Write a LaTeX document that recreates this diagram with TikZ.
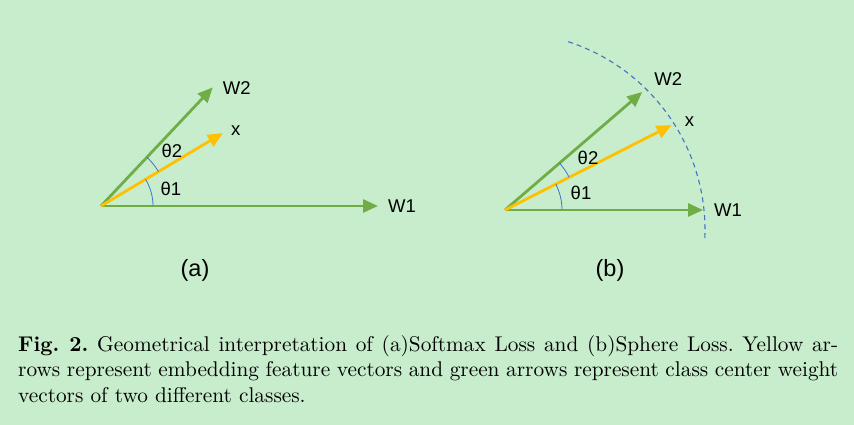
\documentclass[tikz,border=0pt]{standalone}
\usepackage{fontspec}
\setmainfont{lmroman10}[Extension=.otf, UprightFont=*-regular, BoldFont=*-bold,
    ItalicFont=*-italic, BoldItalicFont=*-bolditalic]
\newfontfamily\labelfont{Liberation Sans}
\usetikzlibrary{arrows.meta,positioning,calc}
\definecolor{bgcol}{RGB}{199,237,204}
\definecolor{wgreen}{RGB}{112,173,71}
\definecolor{xyellow}{RGB}{255,192,0}
\definecolor{angblue}{RGB}{68,114,196}

\begin{document}
\begin{tikzpicture}[
    x=1pt, y=1pt,
    vec/.style={line width=2.8pt, -{Triangle[length=15pt,width=13pt]}},
    wvec/.style={vec, draw=wgreen, wgreen},
    xvec/.style={vec, draw=xyellow, xyellow},
    angarc/.style={draw=angblue, line width=0.8pt},
    lbl/.style={font=\labelfont\fontsize{18.5}{22}\selectfont, inner sep=1pt},
    panel/.style={font=\labelfont\fontsize{23.5}{28}\selectfont}
]
\fill[bgcol] (0,0) rectangle (854,-425);
\useasboundingbox (0,0) rectangle (854,-425);

% (a) softmax loss
\coordinate (oa) at (101,-206);
\coordinate (w1a) at ($(oa)+(0:277)$);
\coordinate (w2a) at ($(oa)+(46.7:163)$);
\coordinate (xa) at ($(oa)+(30.9:142)$);
\draw[wvec] (oa) -- (w1a);
\draw[wvec] (oa) -- (w2a);
\draw[xvec] (oa) -- (xa);
\draw[angarc] ($(oa)+(0:52)$) arc[start angle=0, end angle=30.9, radius=52];
\draw[angarc] ($(oa)+(30.9:67)$) arc[start angle=30.9, end angle=46.7, radius=67];
\node[lbl, right=9pt of w1a] (lw1a) {W1};
\node[lbl, right=9pt of w2a, yshift=-1pt] (lw2a) {W2};
\node[lbl, right=7pt of xa, yshift=2pt] (lxa) {x};
\node[lbl] (t2a) at (172,-151) {θ2};
\node[lbl] (t1a) at (171,-189) {θ1};
\node[panel] (pa) at (195,-270) {(a)};

% (b) sphere loss
\coordinate (ob) at (505,-210);
\coordinate (w1b) at ($(ob)+(0:198)$);
\coordinate (w2b) at ($(ob)+(40.7:181)$);
\coordinate (xb) at ($(ob)+(27:187)$);
\coordinate (cb) at (507,-230);
\draw[angblue, line width=1.1pt, dash pattern=on 5pt off 4pt]
    ($(cb)+(72:198)$) arc[start angle=72, end angle=-3.5, radius=198];
\draw[wvec] (ob) -- (w1b);
\draw[wvec] (ob) -- (w2b);
\draw[xvec] (ob) -- (xb);
\draw[angarc] ($(ob)+(0:57)$) arc[start angle=0, end angle=27, radius=57];
\draw[angarc] ($(ob)+(27:72)$) arc[start angle=27, end angle=40.7, radius=72];
\node[lbl, right=10pt of w1b] (lw1b) {W1};
\node[lbl, above right=5pt and 11pt of w2b] (lw2b) {W2};
\node[lbl, right=12pt of xb, yshift=3pt] (lxb) {x};
\node[lbl] (t2b) at (588,-158) {θ2};
\node[lbl] (t1b) at (581,-193) {θ1};
\node[panel] (pb) at (610,-270) {(b)};

% caption
\node[anchor=north west, text width=820pt, align=justify, inner sep=0pt,
      font=\fontsize{21.3}{25.5}\selectfont] (cap) at (18,-335)
  {\frenchspacing\textbf{Fig.~2.} Geometrical interpretation of (a)Softmax Loss and (b)Sphere Loss. Yellow ar-\linebreak
   rows represent embedding feature vectors and green arrows represent class center weight\linebreak
   vectors of two different classes.\par};
\end{tikzpicture}
\end{document}
